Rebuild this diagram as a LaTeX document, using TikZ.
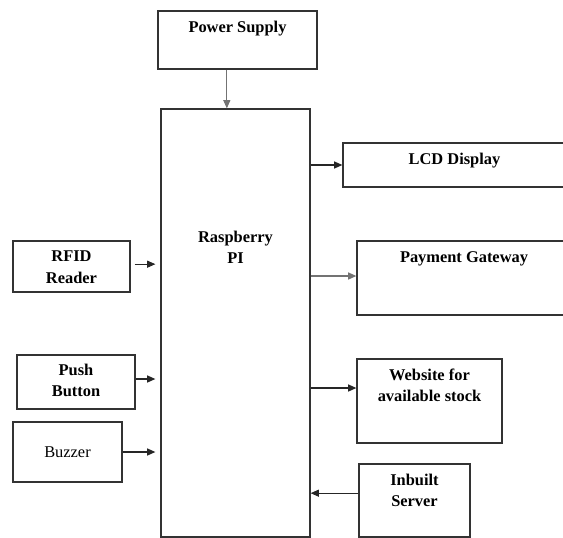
\documentclass[tikz,border=0pt]{standalone}
\usepackage{fontspec}
\setmainfont{Liberation Serif}
\usetikzlibrary{arrows.meta, fit}

\begin{document}
\begin{tikzpicture}[
        x=0.03cm, y=-0.03cm,
        block/.style={rectangle, draw=black!80, line width=1.1pt, inner sep=0pt},
        title/.style={anchor=north, inner sep=0pt, yshift=-0.32cm, align=center, font=\fontsize{14}{18}\selectfont\bfseries},
        plain/.style={anchor=center, inner sep=0pt, font=\fontsize{14}{18}\selectfont},
        arrow/.style={-{Triangle[length=7pt, width=6pt]}, line width=0.9pt, color=black!85},
        grayarrow/.style={arrow, color=black!55}
    ]
        \clip (0,0) rectangle (563,538);
        \node (power) [block, fit={(158,11) (317,69)}, label={[title]north:Power Supply}] {};
        \node (rpi) [block, fit={(161,109) (310,537)}, label={[title, yshift=-3.36cm]north:Raspberry\\PI}] {};
        \node (lcd) [block, fit={(343,143) (566,187)}, label={[title]north:LCD Display}] {};
        \node (payment) [block, fit={(357,241) (571,315)}, label={[title]north:Payment Gateway}] {};
        \node (website) [block, fit={(357,359) (502,443)}, label={[title]north:Website for\\available stock}] {};
        \node (server) [block, fit={(359,464) (470,537)}, label={[title]north:Inbuilt\\Server}] {};
        \node (rfid) [block, fit={(13,241) (130,292)}, label={[title]north:RFID\\Reader}] {};
        \node (button) [block, fit={(17,355) (135,409)}, label={[title, yshift=0.03cm]north:Push\\Button}] {};
        \node (buzzer) [block, fit={(13,422) (122,482)}, label={[plain]center:Buzzer}] {};
        \draw [grayarrow] ([xshift=-0.32cm]power.south) -- ([xshift=-0.32cm]power.south |- rpi.north);
        \draw [arrow] (rpi.east |- lcd.west) -- (lcd.west);
        \draw [grayarrow] ([yshift=0.06cm]payment.west -| rpi.east) -- ([yshift=0.06cm]payment.west);
        \draw [arrow] ([yshift=0.39cm]website.west -| rpi.east) -- ([yshift=0.39cm]website.west);
        \draw [arrow] ([yshift=0.22cm]server.west) -- ([yshift=0.22cm]server.west -| rpi.east);
        \draw [arrow, shorten <=0.12cm, shorten >=0.15cm] ([yshift=0.07cm]rfid.east) -- ([yshift=0.07cm]rfid.east -| rpi.west);
        \draw [arrow, shorten >=0.15cm] ([yshift=0.09cm]button.east) -- ([yshift=0.09cm]button.east -| rpi.west);
        \draw [arrow, shorten >=0.15cm] (buzzer.east) -- (buzzer.east -| rpi.west);
    \end{tikzpicture}
\end{document}
